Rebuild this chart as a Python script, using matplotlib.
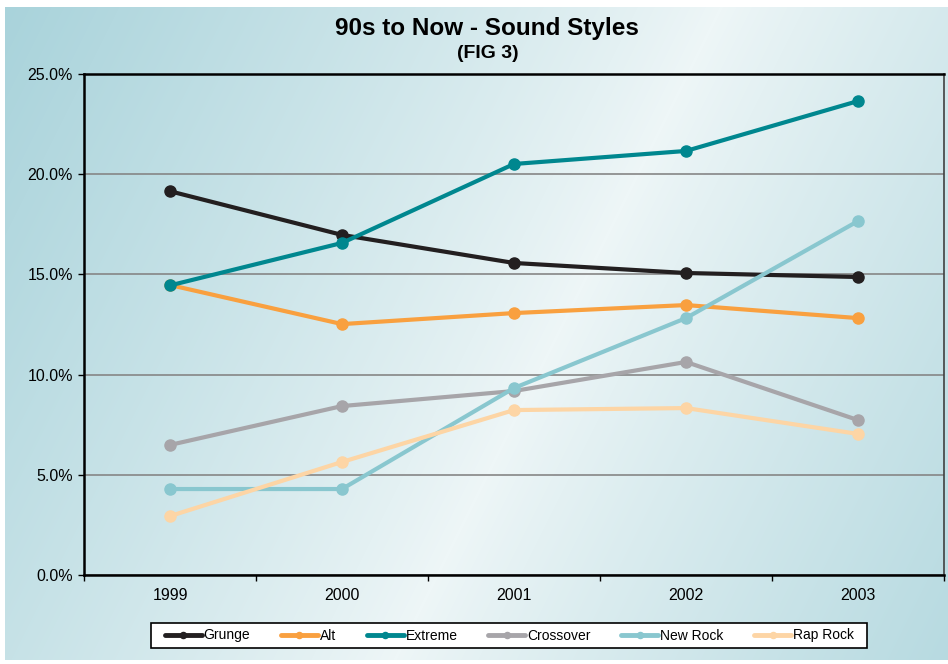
import numpy as np
import matplotlib.pyplot as plt
from matplotlib.colors import LinearSegmentedColormap
from matplotlib.patches import Rectangle

plt.rcParams['font.family'] = ['Liberation Sans', 'DejaVu Sans']

# Dados (% por ano)
anos = ['1999', '2000', '2001', '2002', '2003']
grunge = [19.15, 16.97, 15.57, 15.07, 14.87]
alt = [14.47, 12.52, 13.07, 13.47, 12.82]
extreme = [14.45, 16.57, 20.51, 21.16, 23.65]
crossover = [6.49, 8.43, 9.18, 10.63, 7.73]
new_rock = [4.29, 4.29, 9.33, 12.82, 17.66]
rap_rock = [2.94, 5.64, 8.23, 8.33, 7.04]

series = [
    ('Grunge', grunge, '#231f20'),
    ('Alt', alt, '#f9a03f'),
    ('Extreme', extreme, '#00878f'),
    ('Crossover', crossover, '#a7a5a9'),
    ('New Rock', new_rock, '#89c7cf'),
    ('Rap Rock', rap_rock, '#fdd5a5'),
]

W, H = 948, 664
fig = plt.figure(figsize=(W / 100, H / 100), dpi=100)

# Fundo em degradê diagonal (com margem branca em cima, à esquerda e embaixo)
bg = fig.add_axes([5 / W, 4 / H, (W - 5) / W, (H - 11) / H], zorder=-10)
h, w = H - 11, W - 5
yy, xx = np.mgrid[0:h, 0:w]
t = (2 * xx + yy) / np.sqrt(5)
d = np.abs(t - 640) / 640
d = np.clip(d, 0, 1) ** 0.9
cmap = LinearSegmentedColormap.from_list('fundo', ['#eef6f7', '#a9d3db'])
bg.imshow(d, cmap=cmap, aspect='auto', vmin=0, vmax=1, interpolation='bilinear')
bg.axis('off')

ax = fig.add_axes([84 / W, 89 / H, 860 / W, 501 / H])
ax.set_facecolor('none')

x = np.arange(len(anos))
for nome, valores, cor in series:
    ax.plot(x, valores, color=cor, lw=3, marker='o', markersize=8, label=nome,
            solid_capstyle='round')

ax.set_xlim(-0.5, len(anos) - 0.5)
ax.set_ylim(0, 25)
ax.set_yticks(np.arange(0, 25.1, 5))
ax.set_yticklabels([f'{v:.1f}%' for v in np.arange(0, 25.1, 5)])
ax.set_xticks(x)
ax.set_xticklabels(anos)
ax.set_xticks(np.arange(-0.5, len(anos), 1), minor=True)
ax.tick_params(axis='x', which='major', length=0, pad=9, labelsize=11.5)
ax.tick_params(axis='x', which='minor', length=4, width=1, direction='out')
ax.tick_params(axis='y', length=4, width=1, direction='out', pad=4, labelsize=11.5)

ax.yaxis.grid(True, color='#868686', lw=1.2)
ax.set_axisbelow(True)
for lado in ['left', 'bottom', 'top']:
    ax.spines[lado].set_linewidth(1.8)
    ax.spines[lado].set_color('black')
ax.spines['right'].set_linewidth(1.2)
ax.spines['right'].set_color('#404040')

fig.text(487 / W, 1 - 28 / H, '90s to Now - Sound Styles', ha='center', va='center',
         fontsize=17.5, fontweight='bold')
fig.text(488 / W, 1 - 53 / H, '(FIG 3)', ha='center', va='center',
         fontsize=14, fontweight='bold')

# Legenda: caixa desenhada à parte
fig.patches.append(Rectangle((151 / W, 1 - 648 / H), 716 / W, 25 / H,
                             transform=fig.transFigure, facecolor='white',
                             edgecolor='black', lw=1.2, zorder=1))
leg = fig.legend(loc='center', bbox_to_anchor=(509.5 / W, 1 - 635.5 / H), ncol=6,
                 fontsize=10, frameon=False, handlelength=2.66,
                 handletextpad=0.15, columnspacing=2.2, borderpad=0.3,
                 markerscale=0.55)
leg.set_zorder(2)
for linha in leg.get_lines():
    linha.set_linewidth(3.5)

fig.savefig('out.png', dpi=100)
